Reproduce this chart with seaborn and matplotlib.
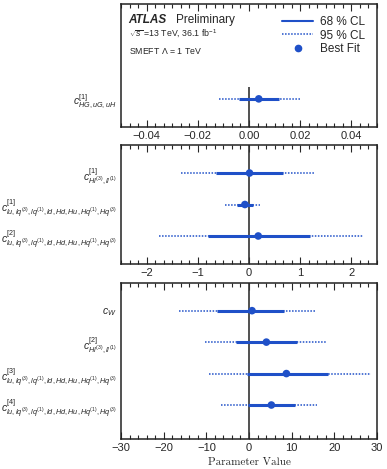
import numpy as np
import matplotlib
matplotlib.use("Agg")
import matplotlib.pyplot as plt
from matplotlib.ticker import AutoMinorLocator, MultipleLocator
from matplotlib.lines import Line2D
import pandas as pd
import seaborn as sns

sns.set_style("white")
plt.rcParams['font.family'] = ['Liberation Sans', 'DejaVu Sans']
plt.rcParams['mathtext.fontset'] = 'custom'
plt.rcParams['mathtext.rm'] = 'Liberation Sans'
plt.rcParams['mathtext.it'] = 'Liberation Sans:italic'
plt.rcParams['mathtext.bf'] = 'Liberation Sans:bold'

blue = '#1f50c8'
LQ = r'lu,lq^{(3)},lq^{(1)},ld,Hd,Hu,Hq^{(1)},Hq^{(3)}'

# panel 1
names1 = [r'$c^{[1]}_{HG,uG,uH}$']
best1 = [0.0038]
lo68_1 = [-0.004]
hi68_1 = [0.0116]
lo95_1 = [-0.0116]
hi95_1 = [0.0198]

# panel 2
names2 = [r'$c^{[1]}_{Hl^{(3)},ll^{(1)}}$',
          r'$c^{[1]}_{' + LQ + '}$',
          r'$c^{[2]}_{' + LQ + '}$']
best2 = [0.01, -0.08, 0.18]
lo68_2 = [-0.645, -0.24, -0.80]
hi68_2 = [0.66, 0.07, 1.20]
lo95_2 = [-1.32, -0.47, -1.76]
hi95_2 = [1.29, 0.21, 2.22]

# panel 3
names3 = [r'$c_W$',
          r'$c^{[2]}_{Hl^{(3)},ll^{(1)}}$',
          r'$c^{[3]}_{' + LQ + '}$',
          r'$c^{[4]}_{' + LQ + '}$']
best3 = [0.7, 4.07, 8.76, 5.24]
lo68_3 = [-7.4, -3.05, -0.47, -0.3]
hi68_3 = [8.3, 11.2, 18.6, 10.7]
lo95_3 = [-16.4, -10.4, -9.46, -6.6]
hi95_3 = [15.6, 18.3, 28.6, 16.0]


def make_df(names, best, lo68, hi68, lo95, hi95):
    return pd.DataFrame({'name': names, 'row': np.arange(len(names)),
                         'best': best, 'lo68': lo68, 'hi68': hi68,
                         'lo95': lo95, 'hi95': hi95})


def draw_panel(ax, df, xlim, major, nminor, ylim, zero_top=None):
    top = ylim[1] if zero_top is None else zero_top
    ax.vlines(0, ylim[0], top, color='#333333', lw=1.2, zorder=1)
    ax.hlines(df['row'], df['lo95'], df['hi95'], color=blue, lw=1.1,
              linestyles=(0, (1, 1)), zorder=2)
    ax.hlines(df['row'], df['lo68'], df['hi68'], color=blue, lw=2.2, zorder=3)
    sns.scatterplot(data=df, x='best', y='row', ax=ax, color=blue, s=30,
                    edgecolor='none', zorder=4, legend=False)
    ax.set_xlim(*xlim)
    ax.set_ylim(*ylim)
    ax.set_yticks(df['row'])
    ax.set_yticklabels(df['name'], fontsize=7.5)
    ax.tick_params(axis='y', length=0, pad=3)
    ax.xaxis.set_major_locator(MultipleLocator(major))
    ax.xaxis.set_minor_locator(AutoMinorLocator(nminor))
    ax.tick_params(axis='x', which='both', direction='in', top=True,
                   bottom=True, labelsize=8, width=0.8, pad=3)
    ax.tick_params(axis='x', which='major', length=5)
    ax.tick_params(axis='x', which='minor', length=3)
    ax.set_xlabel('')
    ax.set_ylabel('')
    for s in ax.spines.values():
        s.set_linewidth(1.1)
        s.set_color('#222222')


fig = plt.figure(figsize=(3.87, 4.69), dpi=100)
left, width = 0.3127, 0.6615
ax1 = fig.add_axes([left, 0.7292, width, 0.2623])
ax2 = fig.add_axes([left, 0.4371, width, 0.2537])
ax3 = fig.add_axes([left, 0.0640, width, 0.3326])

draw_panel(ax1, make_df(names1, best1, lo68_1, hi68_1, lo95_1, hi95_1),
           (-0.05, 0.05), 0.02, 6, (0.89, -3.0), zero_top=-0.38)
draw_panel(ax2, make_df(names2, best2, lo68_2, hi68_2, lo95_2, hi95_2),
           (-2.5, 2.5), 1, 6, (2.89, -0.89))
draw_panel(ax3, make_df(names3, best3, lo68_3, hi68_3, lo95_3, hi95_3),
           (-30, 30), 10, 5, (4.08, -0.88))

ax3.set_xlabel('Parameter Value', family='cmr10', fontsize=8, labelpad=3)

# annotations
ax1.text(0.03, 0.87, 'ATLAS', transform=ax1.transAxes, fontsize=8.5,
         fontweight='bold', fontstyle='italic', va='center')
ax1.text(0.215, 0.87, 'Preliminary', transform=ax1.transAxes, fontsize=8.5,
         va='center')
ax1.text(0.03, 0.756, r'$\sqrt{s}$ =13 TeV, 36.1 fb$^{-1}$',
         transform=ax1.transAxes, fontsize=6.3, va='center')
ax1.text(0.03, 0.618, 'SMEFT $\\Lambda$ = 1 TeV', transform=ax1.transAxes,
         fontsize=6.3, va='center')

handles = [Line2D([], [], color=blue, lw=1.5),
           Line2D([], [], color=blue, lw=1.1, ls=(0, (1, 1))),
           Line2D([], [], color=blue, lw=0, marker='o', markersize=4.5)]
ax1.legend(handles, ['68 % CL', '95 % CL', 'Best Fit'], loc='upper right',
           frameon=False, fontsize=8.5, handlelength=2.6, handletextpad=0.6,
           labelspacing=0.15, borderaxespad=0.6)

fig.savefig('out.png', dpi=100)
